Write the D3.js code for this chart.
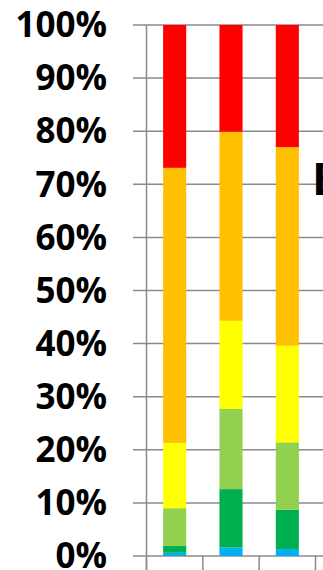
<!DOCTYPE html>
<html>
<head>
<meta charset="utf-8">
<script src="https://cdn.jsdelivr.net/npm/d3@7"></script>
<style>
  html, body { margin: 0; padding: 0; background: #fff; overflow: hidden; }
</style>
</head>
<body>
<div id="chart"></div>
<script>
// Data: share of each band per column (percent)
var categories = ["A", "B", "C"];
var blue      = [0.6, 1.6, 1.3];
var darkGreen = [1.3, 11.0, 7.4];
var lightGreen = [7.1, 15.1, 12.7];
var yellow    = [12.3, 16.6, 18.2];
var orange    = [51.8, 35.6, 37.4];
var red       = [26.9, 20.1, 23.0];
var tickValues = [0, 10, 20, 30, 40, 50, 60, 70, 80, 90, 100];

var seriesNames = ["blue", "darkGreen", "lightGreen", "yellow", "orange", "red"];
var seriesColors = ["#00B0F0", "#00B050", "#92D050", "#FFFF00", "#FFC000", "#FF0000"];
var seriesValues = [blue, darkGreen, lightGreen, yellow, orange, red];

var width = 323,
    height = 570;

var svg = d3.select("#chart")
  .append("svg")
    .attr("width", width)
    .attr("height", height);

// Scales
var y = d3.scaleLinear()
  .domain([0, 100])
  .range([556, 25]);

var x = d3.scaleBand()
  .domain(categories)
  .range([146.5, 315.5])
  .paddingInner(0.59)
  .paddingOuter(0.295);

// Build table for the stack
var table = categories.map(function(c, i) {
  var row = { cat: c };
  seriesNames.forEach(function(s, j) { row[s] = seriesValues[j][i]; });
  return row;
});
var stacked = d3.stack().keys(seriesNames)(table);

// Gridlines + left tick marks
svg.append("g")
  .selectAll("line")
  .data(tickValues)
  .enter()
  .append("line")
    .attr("x1", 133)
    .attr("x2", width)
    .attr("y1", function(d) { return y(d); })
    .attr("y2", function(d) { return y(d); })
    .attr("stroke", "#8a8a8a")
    .attr("stroke-width", 1.5);

// Y labels
svg.append("g")
  .selectAll("text")
  .data(tickValues)
  .enter()
  .append("text")
    .attr("x", 107)
    .attr("y", function(d) { return y(d); })
    .attr("dy", "0.35em")
    .attr("text-anchor", "end")
    .attr("font-family", "'Open Sans', sans-serif")
    .attr("font-weight", "bold")
    .attr("font-size", "35px")
    .attr("fill", "#000")
    .text(function(d) { return d + "%"; });

// Y axis line
svg.append("line")
  .attr("x1", 146.5).attr("x2", 146.5)
  .attr("y1", y(100)).attr("y2", height)
  .attr("stroke", "#8a8a8a")
  .attr("stroke-width", 1.5);

// Category boundary ticks
var bounds = d3.range(categories.length + 1).map(function(i) { return 146.5 + i * x.step(); });
svg.append("g")
  .selectAll("line")
  .data(bounds)
  .enter()
  .append("line")
    .attr("x1", function(d) { return d; })
    .attr("x2", function(d) { return d; })
    .attr("y1", y(0))
    .attr("y2", height)
    .attr("stroke", "#8a8a8a")
    .attr("stroke-width", 1.5);

// Stacked bars
svg.append("g")
  .selectAll("g")
  .data(stacked)
  .enter()
  .append("g")
    .attr("fill", function(d, i) { return seriesColors[i]; })
  .selectAll("rect")
  .data(function(d) { return d; })
  .enter()
  .append("rect")
    .attr("x", function(d) { return x(d.data.cat); })
    .attr("y", function(d) { return y(d[1]); })
    .attr("width", x.bandwidth())
    .attr("height", function(d) { return y(d[0]) - y(d[1]); });

// Clipped label at the right edge
svg.append("text")
  .attr("x", 312)
  .attr("y", 195)
  .attr("font-family", "'Open Sans', sans-serif")
  .attr("font-weight", "bold")
  .attr("font-size", "45px")
  .attr("fill", "#000")
  .text("E");
</script>
</body>
</html>
